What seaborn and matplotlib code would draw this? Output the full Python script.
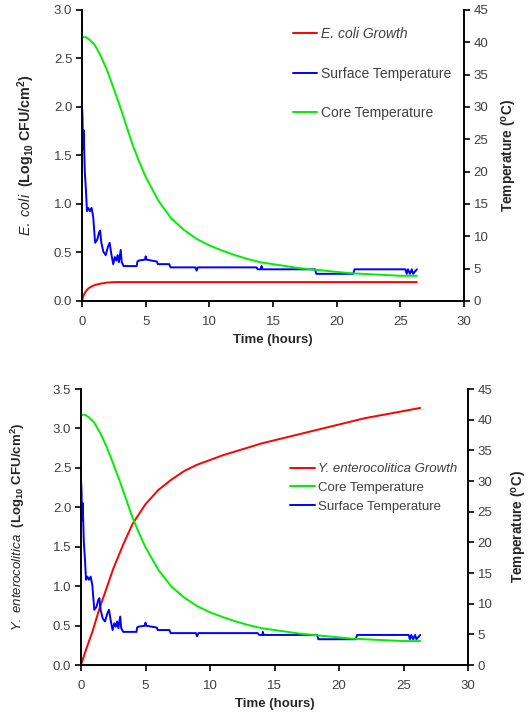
#!/usr/bin/env python3
# -*- coding: utf-8 -*-
"""
Growth of E. coli / Y. enterocolitica vs. chilling temperature profile
Two stacked panels, growth on left axis, temperatures on right axis.
"""

import numpy as np
import pandas as pd
import matplotlib
matplotlib.use('Agg')
import matplotlib.pyplot as plt
import seaborn as sns

# ============================================
# Data
# ============================================
# E. coli growth (Log10 CFU/cm2)
ECOLI_TIME = [0, 0.1, 0.25, 0.5, 0.75, 1.0, 1.5, 2.0, 2.5, 26.3]
ECOLI_LOG = [0, 0.05, 0.09, 0.13, 0.15, 0.165, 0.18, 0.19, 0.195, 0.195]

# Y. enterocolitica growth (Log10 CFU/cm2)
YENT_TIME = [0, 0.4, 0.9, 1.4, 1.95, 2.5, 3.25, 4.0, 5.0, 6.0, 7.0, 8.0, 9.0,
             10, 11, 12, 13, 14, 16, 18, 20, 22, 24, 26.3]
YENT_LOG = [0, 0.2, 0.43, 0.7, 0.96, 1.22, 1.52, 1.79, 2.04, 2.22, 2.35, 2.46, 2.54,
            2.60, 2.66, 2.71, 2.76, 2.81, 2.89, 2.97, 3.05, 3.13, 3.19, 3.26]

# Core temperature (deg C)
CORE_TIME = [0, 0.3, 0.6, 1.0, 1.5, 2.0, 2.5, 3.0, 3.5, 4.0, 4.5, 5.0, 6.0, 7.0,
             8.0, 9.0, 10, 11, 12, 13, 14, 15, 16, 17, 18, 19, 20, 21, 22, 23,
             24, 25, 26.3]
CORE_TEMP = [40.8, 40.8, 40.4, 39.6, 37.8, 35.5, 32.8, 30.0, 27.0, 24.0, 21.5,
             19.2, 15.5, 12.8, 11.0, 9.6, 8.6, 7.8, 7.1, 6.5, 6.0, 5.7, 5.4, 5.1,
             4.9, 4.7, 4.5, 4.3, 4.2, 4.1, 4.0, 3.9, 3.9]

# Surface temperature (deg C)
SURF_TIME = [0, 0.04, 0.08, 0.13, 0.17, 0.22, 0.31, 0.39, 0.49, 0.62, 0.75, 0.88,
             0.95, 1.03, 1.2, 1.34, 1.42, 1.52, 1.68, 1.86, 2.04, 2.17, 2.3, 2.45,
             2.58, 2.7, 2.8, 2.9, 3.04, 3.12, 3.27, 4.3, 4.35, 4.45, 4.95, 5.0,
             5.06, 5.88, 5.95, 6.85, 6.95, 8.9, 9.0, 9.1, 13.7, 13.8, 14.05, 14.1,
             14.15, 18.3, 18.4, 21.3, 21.4, 25.4, 25.5, 25.6, 25.75, 25.9, 26.0, 26.3]
SURF_TEMP = [30.3, 28.5, 23.6, 26.4, 23.6, 20.0, 17.1, 13.9, 14.4, 13.9, 14.4, 13.0,
             11.1, 9.0, 9.5, 10.6, 10.9, 9.0, 7.6, 7.1, 8.4, 9.0, 7.3, 5.7,
             6.8, 6.25, 7.1, 6.0, 7.9, 6.0, 5.4, 5.4, 6.1, 6.25, 6.4, 6.9,
             6.4, 6.1, 5.7, 5.7, 5.2, 5.2, 4.7, 5.2, 5.2, 4.9, 4.9, 5.4,
             4.9, 4.9, 4.2, 4.2, 4.9, 4.9, 4.2, 4.9, 4.2, 4.9, 4.2, 4.9]

X_TICKS = [0, 5, 10, 15, 20, 25, 30]
TEMP_TICKS = [0, 5, 10, 15, 20, 25, 30, 35, 40, 45]

# ============================================
# Style
# ============================================
sns.set_theme(style='ticks')
plt.rcParams['font.family'] = ['Liberation Sans', 'DejaVu Sans']
plt.rcParams['mathtext.fontset'] = 'custom'
plt.rcParams['mathtext.rm'] = 'Liberation Sans'
plt.rcParams['mathtext.it'] = 'Liberation Sans:italic'
plt.rcParams['mathtext.bf'] = 'Liberation Sans:bold'

RED, GREEN, BLUE = '#ff0000', '#00ee00', '#0000ff'
TICK_COLOR = '#404040'
LW = 1.4


def style_axes(ax, twin, ylim, yticks):
    ax.set_xlim(0, 30)
    ax.set_xticks(X_TICKS)
    ax.set_ylim(*ylim)
    ax.set_yticks(yticks)
    ax.yaxis.set_major_formatter(matplotlib.ticker.FormatStrFormatter('%.1f'))
    twin.set_ylim(0, 45)
    twin.set_yticks(TEMP_TICKS)
    for a in (ax, twin):
        a.spines['top'].set_visible(False)
        for s in a.spines.values():
            s.set_color('black')
            s.set_linewidth(1.2)
        a.tick_params(colors='black', labelcolor=TICK_COLOR, labelsize=9.5,
                      length=4, width=1.2, direction='out')
    ax.tick_params(axis='x', pad=7)
    ax.tick_params(axis='y', pad=3)
    twin.tick_params(axis='y', pad=3)
    ax.set_xlabel('Time (hours)', fontsize=9.5, fontweight='bold', labelpad=4)


def draw_lines(ax, twin, growth_t, growth_v, color):
    sns.lineplot(x=growth_t, y=growth_v, ax=ax, color=color, lw=LW,
                 estimator=None, sort=False)
    sns.lineplot(x=SURF_TIME, y=SURF_TEMP, ax=twin, color=BLUE, lw=LW,
                 estimator=None, sort=False)
    sns.lineplot(x=CORE_TIME, y=CORE_TEMP, ax=twin, color=GREEN, lw=LW,
                 estimator=None, sort=False)


fig = plt.figure(figsize=(5.29, 7.16), dpi=100)

# ============================================
# Top panel: E. coli
# ============================================
ax1 = fig.add_axes([82 / 529, 1 - 301 / 716, 382 / 529, 291 / 716])
tw1 = ax1.twinx()
draw_lines(ax1, tw1, ECOLI_TIME, ECOLI_LOG, RED)
style_axes(ax1, tw1, (0, 3.0), np.arange(0, 3.01, 0.5))
ax1.set_ylabel(r'$\mathit{E.\ coli}$  $\mathbf{(Log_{10}\ CFU/cm^{2})}$', fontsize=10.3)
ax1.yaxis.set_label_coords(-0.118, 0.5)
tw1.set_ylabel(r'$\mathbf{Temperature\ (^{o}C)}$', fontsize=9.8)
tw1.yaxis.set_label_coords(1.094, 0.5)

h = [plt.Line2D([], [], color=c, lw=LW) for c in (RED, BLUE, GREEN)]
leg1 = tw1.legend(h, ['E. coli Growth', 'Surface Temperature', 'Core Temperature'],
                  loc='upper left', bbox_to_anchor=(0.52, 0.985), frameon=False,
                  fontsize=10, handlelength=1.75, handletextpad=0.25,
                  labelspacing=1.85, labelcolor=TICK_COLOR)
leg1.get_texts()[0].set_style('italic')

# ============================================
# Bottom panel: Y. enterocolitica
# ============================================
ax2 = fig.add_axes([81 / 529, 1 - 665 / 716, 387 / 529, 276 / 716])
tw2 = ax2.twinx()
draw_lines(ax2, tw2, YENT_TIME, YENT_LOG, RED)
style_axes(ax2, tw2, (0, 3.5), np.arange(0, 3.51, 0.5))
ax2.set_ylabel(r'$\mathit{Y.\ enterocolitica}$  $\mathbf{(Log_{10}\ CFU/cm^{2})}$',
               fontsize=9.5)
ax2.yaxis.set_label_coords(-0.14, 0.5)
tw2.set_ylabel(r'$\mathbf{Temperature\ (^{o}C)}$', fontsize=9.8)
tw2.yaxis.set_label_coords(1.108, 0.5)

h = [plt.Line2D([], [], color=c, lw=LW) for c in (RED, GREEN, BLUE)]
leg2 = tw2.legend(h, ['Y. enterocolitica Growth', 'Core Temperature',
                      'Surface Temperature'],
                  loc='upper left', bbox_to_anchor=(0.51, 0.775), frameon=False,
                  fontsize=9.5, handlelength=1.9, handletextpad=0.2,
                  labelspacing=0.5, labelcolor=TICK_COLOR)
leg2.get_texts()[0].set_style('italic')

fig.savefig('out.png', dpi=100)
